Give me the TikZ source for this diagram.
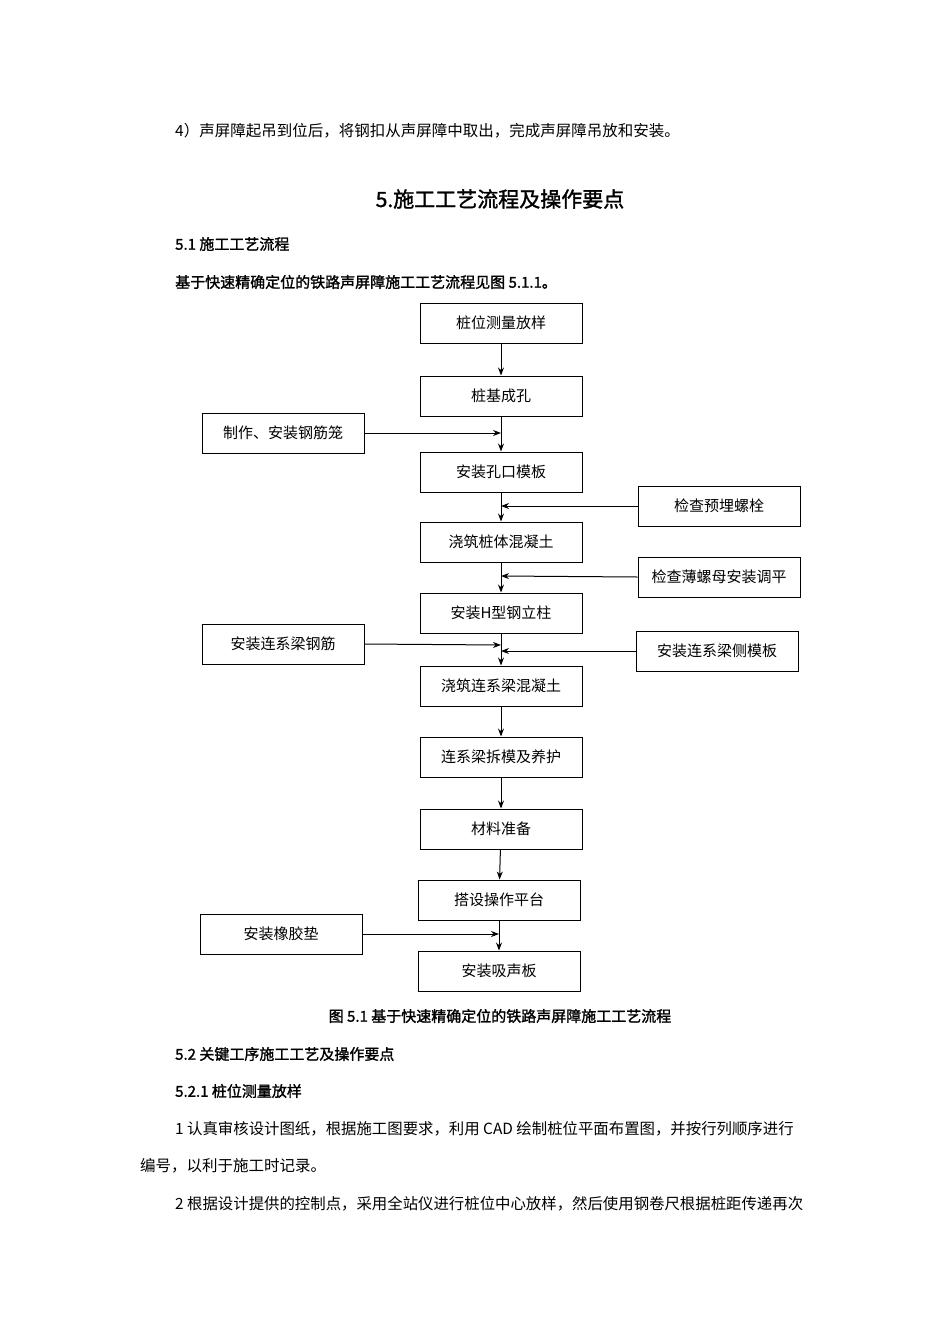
\documentclass[tikz,border=0pt]{standalone}
\usepackage{fontspec}
\setmainfont[AutoFakeBold=1.5]{Noto Sans CJK SC}
\usetikzlibrary{arrows.meta}
\begin{document}
\begin{tikzpicture}[x=1pt,y=-1pt,
  box/.style={draw,line width=1pt,minimum width=162pt,minimum height=40pt,inner sep=0pt,font=\fontsize{15}{18}\selectfont},
  arr/.style={line width=1pt,-{Stealth[length=8pt,width=6pt]}},
  txt/.style={anchor=west,inner sep=0pt,font=\fontsize{15.5}{18}\selectfont},
  btxt/.style={anchor=west,inner sep=0pt,font=\fontsize{15}{18}\selectfont\bfseries}]
\useasboundingbox[fill=white] (0,0) rectangle (950,1344);
\node[txt] (t1) at (175,131) {4）声屏障起吊到位后，将钢扣从声屏障中取出，完成声屏障吊放和安装。};
\node[inner sep=0pt,font=\fontsize{21}{24}\selectfont\bfseries] (t2) at (500,199) {5.施工工艺流程及操作要点};
\node[btxt] (t3) at (175,244) {5.1 施工工艺流程};
\node[btxt] (t4) at (175,282) {基于快速精确定位的铁路声屏障施工工艺流程见图 5.1.1。};
% main chain
\node[box] (m1) at (501,323) {桩位测量放样};
\node[box] (m2) at (501,396) {桩基成孔};
\node[box] (m3) at (501,472) {安装孔口模板};
\node[box] (m4) at (501,542) {浇筑桩体混凝土};
\node[box] (m5) at (501,613) {安装H型钢立柱};
\node[box] (m6) at (501,686) {浇筑连系梁混凝土};
\node[box] (m7) at (501,757) {连系梁拆模及养护};
\node[box] (m8) at (501,829) {材料准备};
\node[box] (m9) at (499,900) {搭设操作平台};
\node[box] (m10) at (499,971) {安装吸声板};
\foreach \a/\b in {m1/m2,m2/m3,m3/m4,m4/m5,m5/m6,m6/m7,m7/m8,m8/m9,m9/m10}
  \draw[arr] (\a) -- (\b);
% side boxes
\node[box] (s1) at (283,433) {制作、安装钢筋笼};
\node[box] (s2) at (719,506) {检查预埋螺栓};
\node[box] (s3) at (719,577) {检查薄螺母安装调平};
\node[box] (s4) at (283,644) {安装连系梁钢筋};
\node[box] (s5) at (717,651) {安装连系梁侧模板};
\node[box] (s6) at (281,934) {安装橡胶垫};
\coordinate (c1) at (501,433);
\coordinate (c2) at (501,506);
\coordinate (c3) at (501,576);
\coordinate (c4) at (501,645);
\coordinate (c5) at (501,651);
\coordinate (c6) at (499,934);
\draw[arr] (s1.east) -- (c1);
\draw[arr] (s2.west) -- (c2);
\draw[arr] (s3.west) -- (c3);
\draw[arr] (s4.east) -- (c4);
\draw[arr] (s5.west) -- (c5);
\draw[arr] (s6.east) -- (c6);
\node[inner sep=0pt,font=\fontsize{15}{18}\selectfont\bfseries] (cap) at (500,1016) {图 5.1 基于快速精确定位的铁路声屏障施工工艺流程};
\node[btxt] (t5) at (175,1054) {5.2 关键工序施工工艺及操作要点};
\node[btxt] (t6) at (175,1091) {5.2.1 桩位测量放样};
\node[txt,font=\fontsize{15.4}{18}\selectfont] (t7) at (175,1129) {1 认真审核设计图纸，根据施工图要求，利用 CAD 绘制桩位平面布置图，并按行列顺序进行};
\node[txt] (t8) at (140,1166) {编号，以利于施工时记录。};
\node[txt,font=\fontsize{15.4}{18}\selectfont] (t9) at (175,1204) {2 根据设计提供的控制点，采用全站仪进行桩位中心放样，然后使用钢卷尺根据桩距传递再次};
\end{tikzpicture}
\end{document}
